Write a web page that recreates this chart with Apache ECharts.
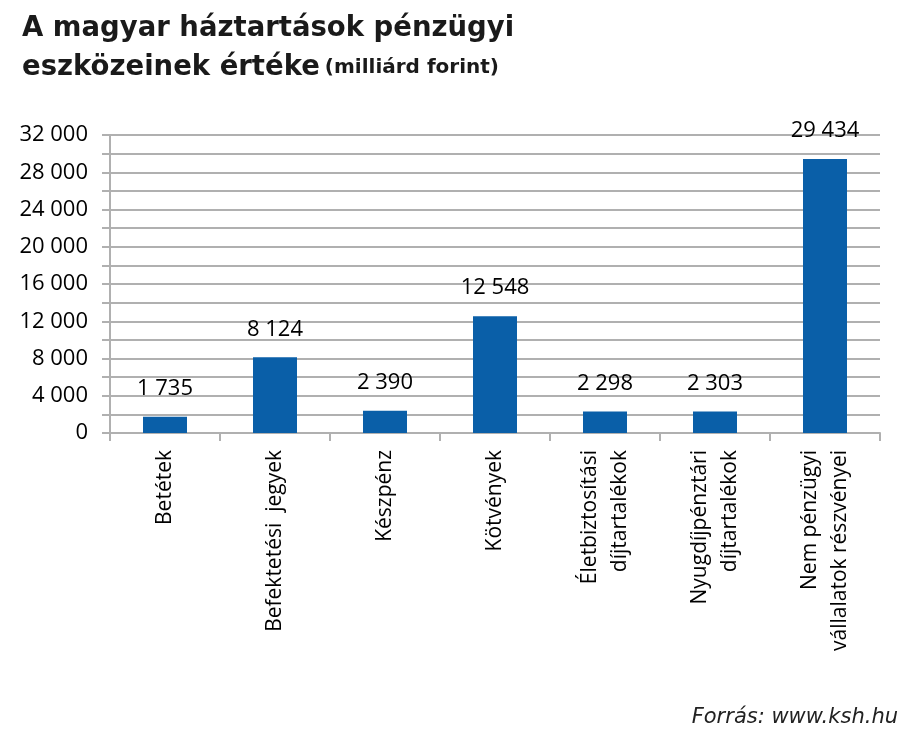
<!DOCTYPE html>
<html>
<head>
<meta charset="utf-8">
<script src="https://cdn.jsdelivr.net/npm/echarts@6/dist/echarts.min.js"></script>
<style>
  html, body { margin: 0; padding: 0; background: #fff; }
  #chart { width: 900px; height: 737px; }
</style>
</head>
<body>
<div id="chart"></div>
<script>
const categories = [
  'Betétek',
  'Befektetési  jegyek',
  'Készpénz',
  'Kötvények',
  'Életbiztosítási\ndíjtartalékok',
  'Nyugdíjpénztári\ndíjtartalékok',
  'Nem pénzügyi\nvállalatok részvényei'
];
const values = [1735, 8124, 2390, 12548, 2298, 2303, 29434];
const yTickLabelStep = 4000;
const titleMain = 'A magyar háztartások pénzügyi';
const titleSecond = 'eszközeinek értéke';
const titleUnit = '(milliárd forint)';
const sourceText = 'Forrás: www.ksh.hu';

function fmt(v) {
  return String(v).replace(/\B(?=(\d{3})+(?!\d))/g, ' ');
}

const chart = echarts.init(document.getElementById('chart'), null, { renderer: 'canvas' });
chart.setOption({
  backgroundColor: '#ffffff',
  animation: false,
  title: [{
    left: 17,
    top: 4,
    text: '{a|' + titleMain + '}\n{a|' + titleSecond + '} {b|' + titleUnit + '}',
    textStyle: {
      rich: {
        a: { fontFamily: 'DejaVu Sans', fontWeight: 700, fontSize: 27.5, color: '#1a1a1a', lineHeight: 39 },
        b: { fontFamily: 'DejaVu Sans', fontWeight: 700, fontSize: 20, color: '#1a1a1a', lineHeight: 39 }
      }
    }
  }, {
    right: -3,
    bottom: 4,
    text: sourceText,
    textStyle: { fontFamily: 'DejaVu Sans', fontStyle: 'italic', fontWeight: 400, fontSize: 21, color: '#222' }
  }],
  grid: { left: 110, right: 20, top: 135, bottom: 304, containLabel: false },
  xAxis: {
    type: 'category',
    data: categories,
    axisLine: { lineStyle: { color: '#b0b0b0', width: 2 } },
    axisTick: { show: true, length: 8, lineStyle: { color: '#b0b0b0', width: 2 } },
    axisLabel: {
      rotate: 90,
      interval: 0,
      margin: 17,
      fontFamily: 'Open Sans',
      fontSize: 21,
      lineHeight: 30,
      color: '#000'
    }
  },
  yAxis: {
    type: 'value',
    min: 0,
    max: 32000,
    interval: 2000,
    axisLine: { show: true, lineStyle: { color: '#b0b0b0', width: 2 } },
    axisTick: { show: true, length: 8, lineStyle: { color: '#b0b0b0', width: 2 } },
    splitLine: { show: true, lineStyle: { color: '#b0b0b0', width: 2 } },
    axisLabel: {
      margin: 22,
      fontFamily: 'Open Sans',
      fontSize: 22,
      color: '#000',
      formatter: v => (v % yTickLabelStep === 0 ? fmt(v) : '')
    }
  },
  series: [{
    type: 'bar',
    data: values,
    barCategoryGap: '60%',
    itemStyle: { color: '#0a5fa8' },
    label: {
      show: true,
      position: 'top',
      distance: 17,
      fontFamily: 'Open Sans',
      fontSize: 22,
      color: '#000',
      formatter: p => fmt(p.value)
    }
  }]
});
</script>
</body>
</html>
